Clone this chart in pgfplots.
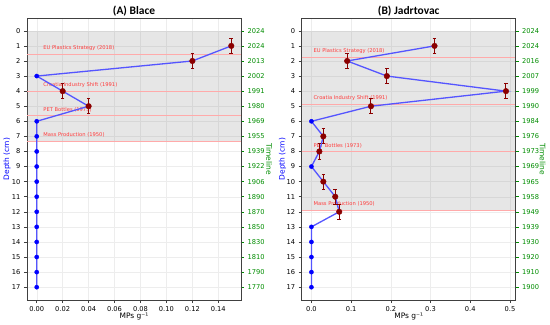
\documentclass[border=0pt]{standalone}
\usepackage{pgfplots}
\usepackage{pgfplotstable}
\pgfplotsset{compat=1.18}
\usepackage{fontspec}
\setmainfont{DejaVu Sans}
\newfontfamily\titlefont{Carlito}
\definecolor{lineblue}{RGB}{85,85,255}
\definecolor{mkblue}{RGB}{0,0,255}
\definecolor{darkred}{RGB}{139,0,0}
\definecolor{hlred}{RGB}{255,170,170}
\definecolor{txtred}{RGB}{255,60,60}
\definecolor{tlgreen}{RGB}{0,140,0}

% Panel A data
\pgfplotstableread{
x y
0.15 1
0.12 2
0 3
0.02 4
0.04 5
0 6
0 7
0 8
0 9
0 10
0 11
0 12
0 13
0 14
0 15
0 16
0 17
}\lineA
\pgfplotstableread{
x y e
0.15 1 0.5
0.12 2 0.5
0.02 4 0.5
0.04 5 0.5
}\redA
\pgfplotstableread{
x y
0 3
0 6
0 7
0 8
0 9
0 10
0 11
0 12
0 13
0 14
0 15
0 16
0 17
}\blueA

% Panel B data
\pgfplotstableread{
x y
0.31 1
0.09 2
0.19 3
0.49 4
0.15 5
0 6
0.03 7
0.02 8
0 9
0.03 10
0.06 11
0.07 12
0 13
0 14
0 15
0 16
0 17
}\lineB
\pgfplotstableread{
x y e
0.31 1 0.5
0.09 2 0.5
0.19 3 0.5
0.49 4 0.5
0.15 5 0.5
0.03 7 0.5
0.02 8 0.5
0.03 10 0.5
0.06 11 0.5
0.07 12 0.5
}\redB
\pgfplotstableread{
x y
0 6
0 9
0 13
0 14
0 15
0 16
0 17
}\blueB

\pgfplotsset{
  base/.style={
    scale only axis, width=214bp, height=282bp,
    ymin=-0.85, ymax=17.85, y dir=reverse,
    ytick={0,...,17},
    tick align=outside, major tick length=3bp,
    ticklabel style={font=\fontsize{6.7}{7}\selectfont},
    axis line style={black!75, line width=0.6bp},
  },
  mainax/.style={
    base,
    tick pos=left,
    grid=major, major grid style={black!7, line width=0.4bp},
    tick style={black!75, line width=0.5bp},
    xlabel={MPs g⁻¹},
    ylabel={Depth (cm)},
    every axis x label/.style={at={(axis description cs:0.5,-0.057)}, anchor=center, font=\fontsize{7.5}{8}\selectfont},
    every axis title shift=0pt,
    title style={at={(axis description cs:0.5,1.026)}, anchor=center, font=\titlefont\bfseries\fontsize{11.5}{12}\selectfont},
    clip=false,
  },
  twinax/.style={
    base,
    axis x line=none, axis y line*=right,
    xmin=0, xmax=1,
    y tick style={tlgreen, line width=0.5bp},
    yticklabel style={text=tlgreen},
    ylabel={Timeline},
  },
  redpts/.style={only marks, mark=*, mark size=2.8bp, mark options={fill=darkred, draw=darkred},
    error bars/.cd, y dir=both, y explicit,
    error bar style={darkred, line width=1bp},
    error mark options={darkred, mark size=1.8bp, line width=1bp, rotate=90}},
  bluepts/.style={only marks, mark=*, mark size=2.1bp, mark options={fill=mkblue, draw=mkblue}},
  bline/.style={lineblue, line width=1.3bp, no marks},
  hl/.style={hlred, line width=0.8bp, forget plot},
}

\begin{document}
\begin{tikzpicture}
\useasboundingbox (0,0) rectangle (550bp,325bp);

% ---------------- Panel A ----------------
\begin{axis}[mainax, at={(27bp,25bp)}, anchor=south west,
  title={(A) Blace},
  xmin=-0.0075, xmax=0.1575,
  xtick={0,0.02,0.04,0.06,0.08,0.10,0.12,0.14},
  xticklabels={0.00,0.02,0.04,0.06,0.08,0.10,0.12,0.14},
  yticklabels={0,1,2,3,4,5,6,7,8,9,10,11,12,13,14,15,16,17},
  every axis y label/.style={at={(axis description cs:-0.093,0.5)}, anchor=center, rotate=90, text=mkblue, font=\fontsize{7.5}{8}\selectfont},
]
\addplot[fill=gray, fill opacity=0.2, draw=none, forget plot] coordinates {(-0.0075,0) (0.1575,0) (0.1575,7.3125) (-0.0075,7.3125)} -- cycle;
\addplot[hl] coordinates {(-0.0075,1.545) (0.1575,1.545)};
\addplot[hl] coordinates {(-0.0075,4) (0.1575,4)};
\addplot[hl] coordinates {(-0.0075,5.636) (0.1575,5.636)};
\addplot[hl] coordinates {(-0.0075,7.3125) (0.1575,7.3125)};
\begin{scope}[every node/.style={anchor=south west, inner sep=0pt, text=txtred, font=\fontsize{5.2}{6}\selectfont}]
\node at (axis cs:0.005,1.315) {EU Plastics Strategy (2018)};
\node at (axis cs:0.005,3.77) {Croatia Industry Shift (1991)};
\node at (axis cs:0.005,5.406) {PET Bottles (1973)};
\node at (axis cs:0.005,7.08) {Mass Production (1950)};
\end{scope}
\addplot[bline] table[x=x,y=y] {\lineA};
\addplot[bluepts] table[x=x,y=y] {\blueA};
\addplot[redpts] table[x=x,y=y,y error=e] {\redA};
\end{axis}
\begin{axis}[twinax, at={(27bp,25bp)}, anchor=south west,
  yticklabels={2024,2024,2013,2002,1991,1980,1969,1955,1939,1922,1906,1890,1870,1850,1830,1810,1790,1770},
  every axis y label/.style={at={(axis description cs:1.131,0.5)}, anchor=center, rotate=-90, text=tlgreen, font=\fontsize{7.5}{8}\selectfont},
]
\end{axis}

% ---------------- Panel B ----------------
\begin{axis}[mainax, at={(301.7bp,25bp)}, anchor=south west,
  title={(B) Jadrtovac},
  xmin=-0.0245, xmax=0.5145,
  xtick={0,0.1,0.2,0.3,0.4,0.5},
  xticklabels={0.0,0.1,0.2,0.3,0.4,0.5},
  yticklabels={0,1,2,3,4,5,6,7,8,9,10,11,12,13,14,15,16,17},
  every axis y label/.style={at={(axis description cs:-0.089,0.5)}, anchor=center, rotate=90, text=mkblue, font=\fontsize{7.5}{8}\selectfont},
]
\addplot[fill=gray, fill opacity=0.2, draw=none, forget plot] coordinates {(-0.0245,0) (0.5145,0) (0.5145,11.889) (-0.0245,11.889)} -- cycle;
\addplot[hl] coordinates {(-0.0245,1.75) (0.5145,1.75)};
\addplot[hl] coordinates {(-0.0245,4.889) (0.5145,4.889)};
\addplot[hl] coordinates {(-0.0245,8) (0.5145,8)};
\addplot[hl] coordinates {(-0.0245,11.889) (0.5145,11.889)};
\begin{scope}[every node/.style={anchor=south west, inner sep=0pt, text=txtred, font=\fontsize{5.2}{6}\selectfont}]
\node at (axis cs:0.005,1.52) {EU Plastics Strategy (2018)};
\node at (axis cs:0.005,4.659) {Croatia Industry Shift (1991)};
\node at (axis cs:0.005,7.77) {PET Bottles (1973)};
\node at (axis cs:0.005,11.659) {Mass Production (1950)};
\end{scope}
\addplot[bline] table[x=x,y=y] {\lineB};
\addplot[bluepts] table[x=x,y=y] {\blueB};
\addplot[redpts] table[x=x,y=y,y error=e] {\redB};
\end{axis}
\begin{axis}[twinax, at={(301.7bp,25bp)}, anchor=south west,
  yticklabels={2024,2024,2016,2007,1999,1990,1984,1976,1973,1969,1965,1958,1949,1939,1930,1920,1910,1900},
  every axis y label/.style={at={(axis description cs:1.126,0.5)}, anchor=center, rotate=-90, text=tlgreen, font=\fontsize{7.5}{8}\selectfont},
]
\end{axis}
\end{tikzpicture}
\end{document}
